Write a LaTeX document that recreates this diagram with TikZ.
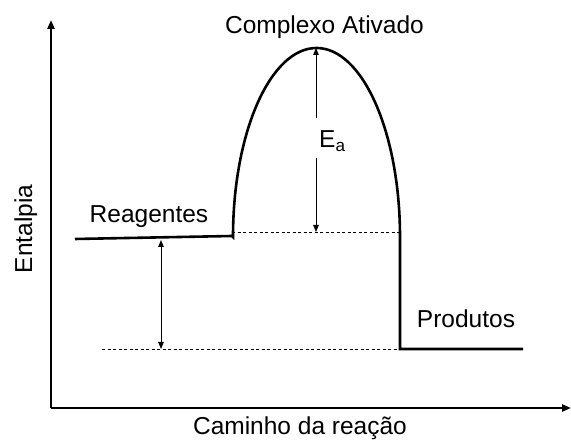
\documentclass[tikz,border=0pt]{standalone}
\usepackage{fontspec}
\setmainfont{Liberation Sans}
\usetikzlibrary{arrows.meta}
\begin{document}
\begin{tikzpicture}[x=1pt,y=1pt,
  axis/.style={line width=2.6pt,-{Triangle[length=9pt,width=7pt]}},
  path/.style={line width=2.6pt},
  guide/.style={line width=0.7pt,dash pattern=on 3pt off 2.5pt},
  dim/.style={line width=0.9pt,{Triangle[length=7pt,width=5.5pt]}-{Triangle[length=7pt,width=5.5pt]}},
  dimhalf/.style={line width=0.9pt},
  lbl/.style={font=\fontsize{24.5}{28}\selectfont,inner sep=0pt,anchor=base}]
\useasboundingbox (0,0) rectangle (571,443);
% coordinates
\coordinate (o) at (51,35);
\coordinate (ytop) at (51,423);
\coordinate (xend) at (571,35);
\coordinate (r0) at (75,204);
\coordinate (r1) at (232,207);
\coordinate (c0) at (233,206);
\coordinate (c1) at (400,206);
\coordinate (p0) at (400,94);
\coordinate (p1) at (523,94);
\coordinate (d1a) at (232,211);
\coordinate (d1b) at (400,211);
\coordinate (d2a) at (102,94);
\coordinate (d2b) at (400,94);
\coordinate (hTop) at (161,203);
\coordinate (hBot) at (161,94);
\coordinate (eaTop) at (316,395);
\coordinate (eaBot) at (316,211);
% axes
\draw[axis] (o) -- (ytop);
\draw[axis] (o) -- (xend);
% guides
\draw[guide] (d1a) -- (d1b);
\draw[guide] (d2a) -- (d2b);
% energy path
\draw[path,line join=miter] (r0) -- (r1) -- (c0)
  arc[start angle=180,end angle=0,x radius=83.5pt,y radius=189pt] -- (p0) -- (p1);
% labels
\node[lbl] (cx) at (324.5,409) {Complexo Ativado};
\node[lbl] (re) at (149,220) {Reagentes};
\node[lbl] (pr) at (466,115) {Produtos};
\node[lbl,rotate=90] (en) at (32,214) {Entalpia};
\node[lbl] (ca) at (300,8) {Caminho da reação};
\node[lbl,anchor=base west] (ea) at (319,295) {E\textsubscript{a}};
% Ea arrow
\coordinate (eaGapT) at (316,325);
\coordinate (eaGapB) at (316,285);
\draw[dimhalf,{Triangle[length=7pt,width=5.5pt]}-] (eaTop) -- (eaGapT);
\draw[dimhalf,-{Triangle[length=7pt,width=5.5pt]}] (eaGapB) -- (eaBot);
% enthalpy difference arrow
\draw[dim] (hTop) -- (hBot);
\end{tikzpicture}
\end{document}
